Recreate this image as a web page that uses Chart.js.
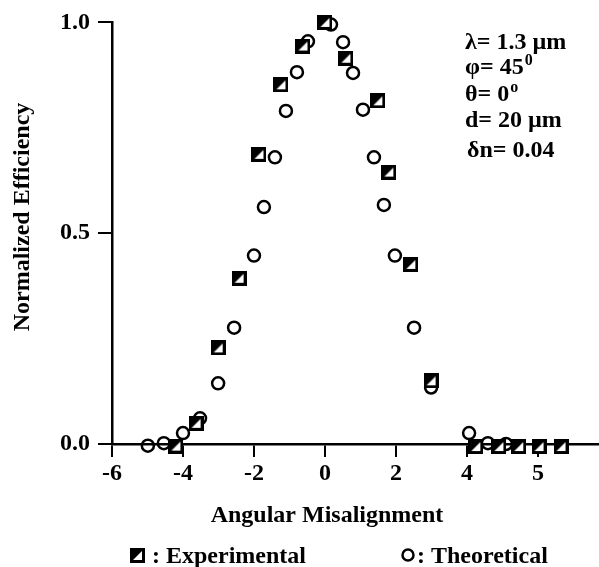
<!DOCTYPE html>
<html><head><meta charset="utf-8">
<script src="https://cdn.jsdelivr.net/npm/chart.js@4.4.1/dist/chart.umd.min.js"></script>
<style>html,body{margin:0;padding:0;background:#fff;}</style>
</head><body>
<canvas id="c" width="599" height="567"></canvas>
<script>
// ---- data ----
const expX = [-4.20, -3.63, -3.01, -2.42, -1.86, -1.24, -0.62, 0.00, 0.59, 1.49, 1.80, 2.42, 2.99, 4.25, 4.90, 5.46, 6.03, 6.65];
const expY = [-0.005, 0.049, 0.228, 0.393, 0.687, 0.852, 0.944, 1.000, 0.915, 0.814, 0.645, 0.426, 0.150, -0.006, -0.006, -0.006, -0.006, -0.006];
const thX = [-4.99, -4.54, -4.00, -3.52, -3.01, -2.56, -2.00, -1.72, -1.41, -1.10, -0.79, -0.48, 0.17, 0.51, 0.79, 1.07, 1.38, 1.66, 1.97, 2.51, 2.99, 4.06, 4.59, 5.10];
const thY = [-0.004, 0.002, 0.026, 0.061, 0.144, 0.276, 0.447, 0.562, 0.680, 0.790, 0.882, 0.955, 0.995, 0.953, 0.880, 0.793, 0.680, 0.567, 0.447, 0.276, 0.134, 0.026, 0.002, 0.000];
const xTickValues = [-6, -4, -2, 0, 2, 4, 6];
const xTickLabels = ['-6', '-4', '-2', '0', '2', '4', '5'];
const yTickValues = [0, 0.5, 1];
const yTickLabels = ['0.0', '0.5', '1.0'];
const xTitle = 'Angular Misalignment';
const yTitle = 'Normalized Efficiency';
const seriesNames = ['Experimental', 'Theoretical'];
const annoLines = [['λ= 1.3 µm', ''], ['φ= 45', '0'], ['θ= 0', 'o'], ['d= 20 µm', ''], ['δn= 0.04', '']];

const FAM = '"Liberation Serif", "Times New Roman", serif';
const FONT = 'bold 24px ' + FAM;

// half-filled square marker
function makeSquare(s) {
  const cv = document.createElement('canvas');
  cv.width = s; cv.height = s;
  const g = cv.getContext('2d');
  g.fillStyle = '#fff'; g.fillRect(0, 0, s, s);
  g.fillStyle = '#000';
  g.beginPath(); g.moveTo(0, 0); g.lineTo(s, 0); g.lineTo(0, s); g.closePath(); g.fill();
  g.strokeStyle = '#000'; g.lineWidth = 3;
  g.strokeRect(1.5, 1.5, s - 3, s - 3);
  return cv;
}
const sq = makeSquare(15);

const textPlugin = {
  id: 'texts',
  afterDraw(chart) {
    const ctx = chart.ctx;
    ctx.save();
    ctx.fillStyle = '#000';
    ctx.font = FONT;
    // axis titles
    ctx.textAlign = 'center'; ctx.textBaseline = 'middle';
    ctx.fillText(xTitle, 327, 516);
    ctx.save();
    ctx.translate(23, 217); ctx.rotate(-Math.PI / 2);
    ctx.fillText(yTitle, 0, 0);
    ctx.restore();
    // annotation block
    ctx.textAlign = 'left'; ctx.textBaseline = 'alphabetic';
    const base = [49, 74, 101, 127, 157];
    annoLines.forEach((ln, i) => {
      ctx.font = FONT;
      const x0 = i === 4 ? 467 : 465;
      ctx.fillText(ln[0], x0, base[i]);
      if (ln[1]) {
        const w = ctx.measureText(ln[0]).width;
        ctx.font = 'bold 16px ' + FAM;
        ctx.fillText(ln[1], x0 + w + 1, base[i] - 9);
      }
    });
    // legend
    ctx.font = FONT;
    ctx.drawImage(sq, 130, 548, 15, 15);
    ctx.fillText(': ' + seriesNames[0], 152, 563);
    ctx.beginPath(); ctx.lineWidth = 2.5; ctx.strokeStyle = '#000';
    ctx.arc(408, 555, 5.5, 0, Math.PI * 2); ctx.stroke();
    ctx.fillText(': ' + seriesNames[1], 417, 563);
    ctx.restore();
  }
};

new Chart(document.getElementById('c'), {
  type: 'scatter',
  data: {
    datasets: [
      {
        label: seriesNames[0],
        data: expX.map((x, i) => ({ x, y: expY[i] })),
        pointStyle: sq,
        pointRadius: 8,
        clip: false
      },
      {
        label: seriesNames[1],
        data: thX.map((x, i) => ({ x, y: thY[i] })),
        pointStyle: 'circle',
        pointRadius: 6,
        borderWidth: 2.5,
        borderColor: '#000',
        backgroundColor: 'rgba(0,0,0,0)',
        clip: false
      }
    ]
  },
  options: {
    responsive: false,
    animation: false,
    devicePixelRatio: 1,
    layout: { autoPadding: false, padding: { top: 19, right: 0, bottom: 0, left: 0 } },
    plugins: { legend: { display: false }, tooltip: { enabled: false } },
    scales: {
      x: {
        type: 'linear', min: -6, max: 7.72,
        afterBuildTicks: s => { s.ticks = xTickValues.map(v => ({ value: v })); },
        afterFit: s => { s.height = 123; },
        ticks: {
          callback: v => xTickLabels[xTickValues.indexOf(v)],
          color: '#000', font: { family: FAM, size: 24, weight: 'bold' }, padding: 2, maxRotation: 0
        },
        grid: { drawOnChartArea: false, tickLength: 13, lineWidth: 2, color: '#000' },
        border: { display: true, color: '#000', width: 2.5 }
      },
      y: {
        type: 'linear', min: 0, max: 1,
        afterBuildTicks: s => { s.ticks = yTickValues.map(v => ({ value: v })); },
        afterFit: s => { s.width = 112; },
        ticks: {
          callback: v => yTickLabels[yTickValues.indexOf(v)],
          color: '#000', font: { family: FAM, size: 24, weight: 'bold' }, padding: 8
        },
        grid: { drawOnChartArea: false, tickLength: 14, lineWidth: 2, color: '#000' },
        border: { display: true, color: '#000', width: 2.5 }
      }
    }
  },
  plugins: [textPlugin]
});
</script>
</body></html>
